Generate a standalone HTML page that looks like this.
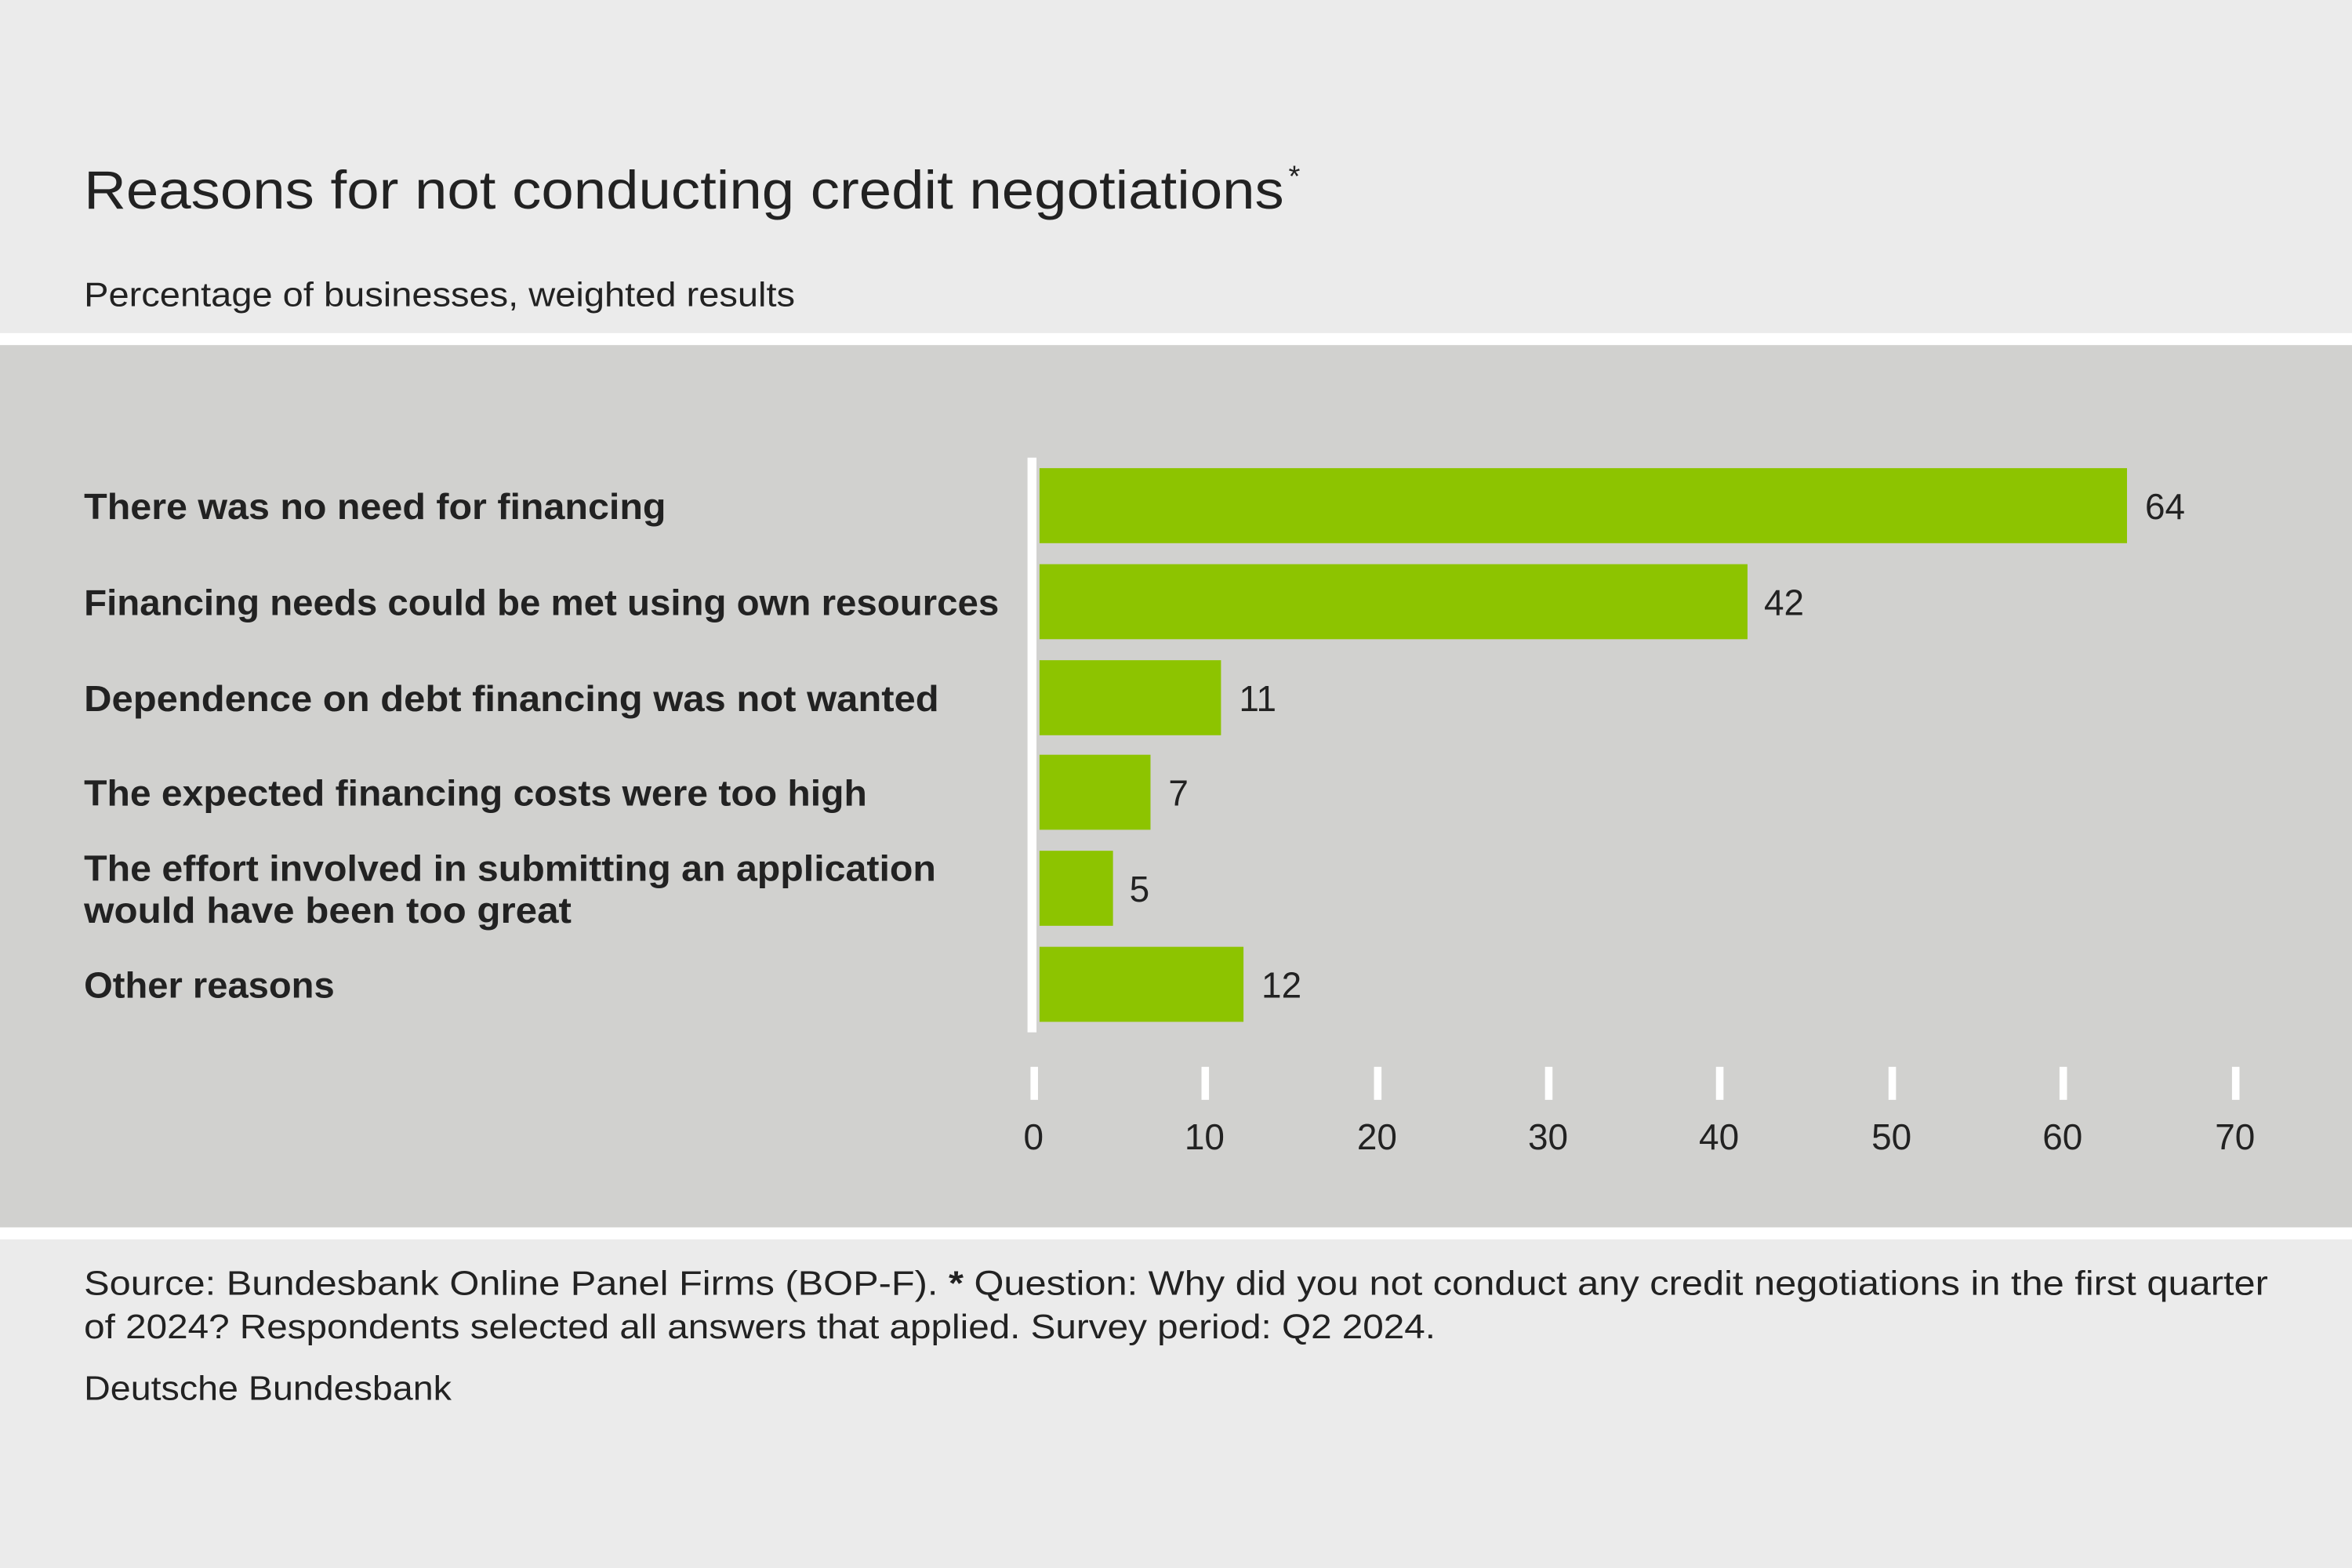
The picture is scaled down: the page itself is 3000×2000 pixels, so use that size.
<!DOCTYPE html>
<html><head><meta charset="utf-8"><style>
html,body{margin:0;padding:0;background:#ebebeb;}
svg{display:block;}
text{font-family:"Liberation Sans",sans-serif;fill:#222;}
</style></head><body>
<svg width="3000" height="2000" viewBox="0 0 1568 1045" preserveAspectRatio="none" xmlns="http://www.w3.org/2000/svg">
<rect x="0" y="0" width="1568" height="1045" fill="#ebebeb"/>
<text x="56" y="139" font-size="36" textLength="800" lengthAdjust="spacingAndGlyphs">Reasons for not conducting credit negotiations</text>
<text x="859" y="124" font-size="20">*</text>
<text x="56" y="204" font-size="23" fill="#333" textLength="474" lengthAdjust="spacingAndGlyphs">Percentage of businesses, weighted results</text>
<rect x="0" y="222" width="1568" height="8" fill="#fff"/>
<rect x="0" y="230" width="1568" height="588" fill="#d1d1cf"/>
<rect x="0" y="818" width="1568" height="8" fill="#fff"/>
<g fill="#8dc400">
<rect x="693" y="312" width="725" height="50"/>
<rect x="693" y="376" width="472" height="50"/>
<rect x="693" y="440" width="121" height="50"/>
<rect x="693" y="503" width="74" height="50"/>
<rect x="693" y="567" width="49" height="50"/>
<rect x="693" y="631" width="136" height="50"/>
</g>
<rect x="685" y="305" width="6" height="383" fill="#fff"/>
<g font-size="24" font-weight="bold" fill="#222" lengthAdjust="spacingAndGlyphs">
<text x="56" y="346" textLength="388" lengthAdjust="spacingAndGlyphs">There was no need for financing</text>
<text x="56" y="410" textLength="610" lengthAdjust="spacingAndGlyphs">Financing needs could be met using own resources</text>
<text x="56" y="474" textLength="570" lengthAdjust="spacingAndGlyphs">Dependence on debt financing was not wanted</text>
<text x="56" y="537" textLength="522" lengthAdjust="spacingAndGlyphs">The expected financing costs were too high</text>
<text x="56" y="587" textLength="568" lengthAdjust="spacingAndGlyphs">The effort involved in submitting an application</text>
<text x="56" y="615" textLength="325" lengthAdjust="spacingAndGlyphs">would have been too great</text>
<text x="56" y="665" textLength="167" lengthAdjust="spacingAndGlyphs">Other reasons</text>
</g>
<g font-size="24">
<text x="1430" y="346">64</text>
<text x="1176" y="410">42</text>
<text x="826" y="474">11</text>
<text x="779" y="537">7</text>
<text x="753" y="601">5</text>
<text x="841" y="665">12</text>
</g>
<g fill="#fff">
<rect x="687" y="711" width="5" height="22"/>
<rect x="801" y="711" width="5" height="22"/>
<rect x="916" y="711" width="5" height="22"/>
<rect x="1030" y="711" width="5" height="22"/>
<rect x="1144" y="711" width="5" height="22"/>
<rect x="1259" y="711" width="5" height="22"/>
<rect x="1373" y="711" width="5" height="22"/>
<rect x="1488" y="711" width="5" height="22"/>
</g>
<g font-size="24" text-anchor="middle">
<text x="689" y="766">0</text>
<text x="803" y="766">10</text>
<text x="918" y="766">20</text>
<text x="1032" y="766">30</text>
<text x="1146" y="766">40</text>
<text x="1261" y="766">50</text>
<text x="1375" y="766">60</text>
<text x="1490" y="766">70</text>
</g>
<g font-size="23" fill="#333">
<text x="56" y="863" textLength="1456" lengthAdjust="spacingAndGlyphs">Source: Bundesbank Online Panel Firms (BOP-F). <tspan font-weight="bold">*</tspan> Question: Why did you not conduct any credit negotiations in the first quarter</text>
<text x="56" y="892" textLength="901" lengthAdjust="spacingAndGlyphs">of 2024? Respondents selected all answers that applied. Survey period: Q2 2024.</text>
<text x="56" y="933" textLength="245" lengthAdjust="spacingAndGlyphs">Deutsche Bundesbank</text>
</g>
</svg>
</body></html>
